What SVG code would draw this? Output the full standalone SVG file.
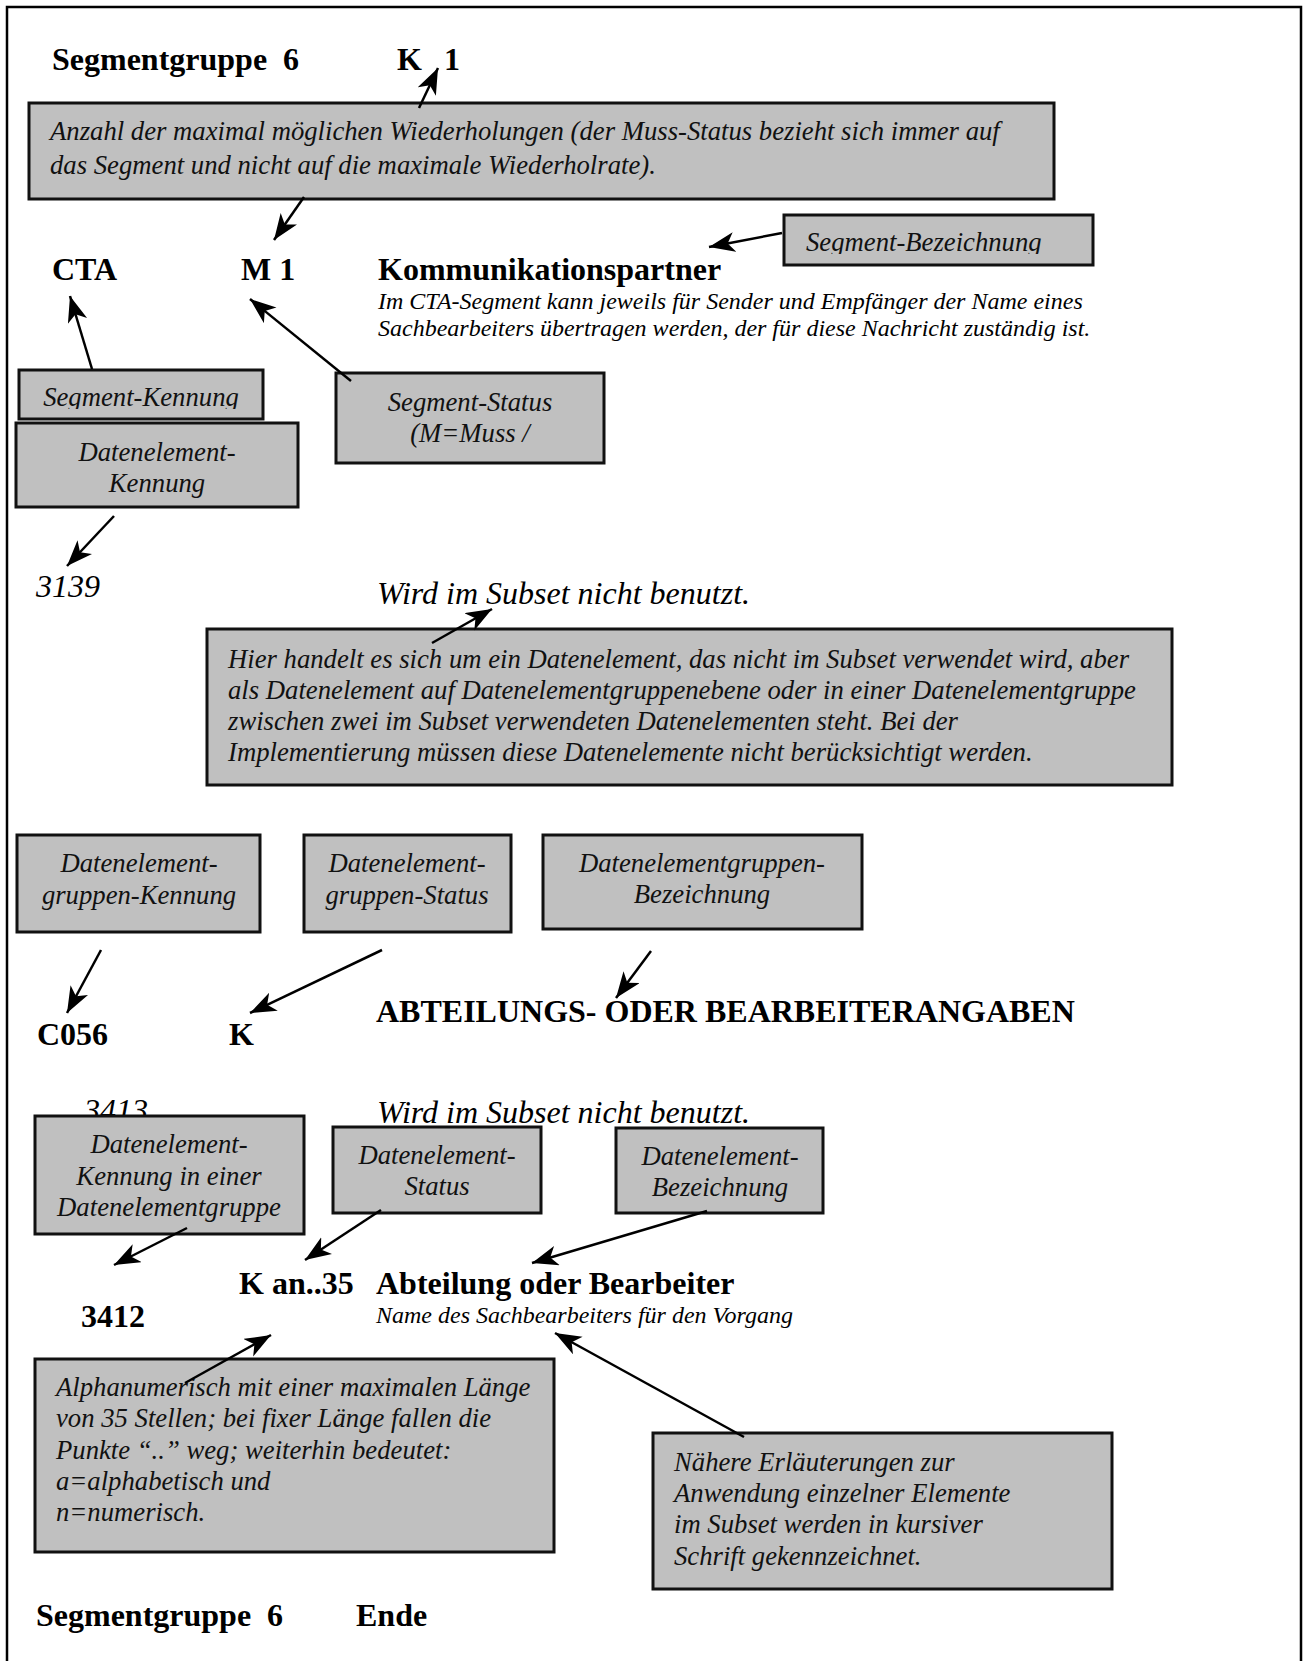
<svg xmlns="http://www.w3.org/2000/svg" width="1308" height="1661" viewBox="0 0 1308 1661">
<style>
.frame{fill:none;stroke:#000;stroke-width:2.5}
.box{fill:#c0c0c0;stroke:#111;stroke-width:3}
.b{font-family:"Liberation Serif","Times New Roman",serif;font-weight:bold;font-size:32px;fill:#000}
.i32{font-family:"Liberation Serif","Times New Roman",serif;font-style:italic;font-size:32px;fill:#000}
.i{font-family:"Liberation Serif","Times New Roman",serif;font-style:italic;font-size:26.7px;fill:#111}
.s{font-family:"Liberation Serif","Times New Roman",serif;font-style:italic;font-size:24px;fill:#000}
.c{text-anchor:middle}
.ln{fill:none;stroke:#000;stroke-width:2.5;marker-end:url(#ah)}
</style>
<defs>
<marker id="ah" markerUnits="userSpaceOnUse" markerWidth="28" markerHeight="22" refX="26" refY="10" orient="auto">
<path d="M0,0 L26,10 L0,20 L7,10 z" fill="#000"/>
</marker>
<clipPath id="clipSB"><rect x="784" y="215" width="309" height="39"/></clipPath>
<clipPath id="clipSK"><rect x="19" y="370" width="244" height="39"/></clipPath>
</defs>
<rect class="frame" x="7" y="7" width="1294" height="1700"/>

<g id="header">
<text class="b" x="52" y="70" xml:space="preserve">Segmentgruppe  6</text>
<text class="b" x="397" y="70">K</text>
<text class="b" x="444" y="70">1</text>
</g>

<g id="box-wiederholungen">
<rect class="box" x="29" y="103" width="1025" height="96"/>
<text class="i" x="50" y="140">Anzahl der maximal möglichen Wiederholungen (der Muss-Status bezieht sich immer auf</text>
<text class="i" x="50" y="174">das Segment und nicht auf die maximale Wiederholrate).</text>
</g>

<g id="segment-line">
<text class="b" x="52" y="280">CTA</text>
<text class="b" x="241" y="280">M 1</text>
<text class="b" x="378" y="280">Kommunikationspartner</text>
<text class="s" x="378" y="309">Im CTA-Segment kann jeweils für Sender und Empfänger der Name eines</text>
<text class="s" x="378" y="336">Sachbearbeiters übertragen werden, der für diese Nachricht zuständig ist.</text>
</g>

<g id="box-segment-bezeichnung">
<rect class="box" x="784" y="215" width="309" height="50"/>
<text class="i" x="806" y="251" clip-path="url(#clipSB)">Segment-Bezeichnung</text>
</g>

<g id="box-segment-kennung">
<rect class="box" x="19" y="370" width="244" height="49"/>
<text class="i c" x="141" y="406" clip-path="url(#clipSK)">Segment-Kennung</text>
</g>

<g id="box-datenelement-kennung">
<rect class="box" x="16" y="423" width="282" height="84"/>
<text class="i c" x="157" y="461">Datenelement-</text>
<text class="i c" x="157" y="492">Kennung</text>
</g>

<g id="box-segment-status">
<rect class="box" x="336" y="373" width="268" height="90"/>
<text class="i c" x="470" y="411">Segment-Status</text>
<text class="i c" x="470" y="442">(M=Muss /</text>
</g>

<g id="element-3139">
<text class="i32" x="36" y="597">3139</text>
<text class="i32" x="377" y="604">Wird im Subset nicht benutzt.</text>
</g>

<g id="box-hier-handelt">
<rect class="box" x="207" y="629" width="965" height="156"/>
<text class="i" x="228" y="668">Hier handelt es sich um ein Datenelement, das nicht im Subset verwendet wird, aber</text>
<text class="i" x="228" y="699">als Datenelement auf Datenelementgruppenebene oder in einer Datenelementgruppe</text>
<text class="i" x="228" y="730">zwischen zwei im Subset verwendeten Datenelementen steht. Bei der</text>
<text class="i" x="228" y="761">Implementierung müssen diese Datenelemente nicht berücksichtigt werden.</text>
</g>

<g id="box-deg-kennung">
<rect class="box" x="17" y="835" width="243" height="97"/>
<text class="i c" x="139" y="872">Datenelement-</text>
<text class="i c" x="139" y="904">gruppen-Kennung</text>
</g>

<g id="box-deg-status">
<rect class="box" x="304" y="835" width="207" height="97"/>
<text class="i c" x="407" y="872">Datenelement-</text>
<text class="i c" x="407" y="904">gruppen-Status</text>
</g>

<g id="box-deg-bezeichnung">
<rect class="box" x="543" y="835" width="319" height="94"/>
<text class="i c" x="702" y="872">Datenelementgruppen-</text>
<text class="i c" x="702" y="903">Bezeichnung</text>
</g>

<g id="group-line">
<text class="b" x="37" y="1045">C056</text>
<text class="b" x="229" y="1045">K</text>
<text class="b" x="376" y="1022">ABTEILUNGS- ODER BEARBEITERANGABEN</text>
</g>

<g id="element-3413">
<text class="i32" x="84" y="1121">3413</text>
<text class="i32" x="377" y="1123">Wird im Subset nicht benutzt.</text>
</g>

<g id="box-de-kennung-gruppe">
<rect class="box" x="35" y="1116" width="269" height="118"/>
<text class="i c" x="169" y="1153">Datenelement-</text>
<text class="i c" x="169" y="1185">Kennung in einer</text>
<text class="i c" x="169" y="1216">Datenelementgruppe</text>
</g>

<g id="box-de-status">
<rect class="box" x="333" y="1127" width="208" height="86"/>
<text class="i c" x="437" y="1164">Datenelement-</text>
<text class="i c" x="437" y="1195">Status</text>
</g>

<g id="box-de-bezeichnung">
<rect class="box" x="616" y="1128" width="207" height="85"/>
<text class="i c" x="720" y="1165">Datenelement-</text>
<text class="i c" x="720" y="1196">Bezeichnung</text>
</g>

<g id="element-line">
<text class="b" x="81" y="1327">3412</text>
<text class="b" x="239" y="1294">K an..35</text>
<text class="b" x="376" y="1294">Abteilung oder Bearbeiter</text>
<text class="s" x="376" y="1323">Name des Sachbearbeiters für den Vorgang</text>
</g>

<g id="box-alphanumerisch">
<rect class="box" x="35" y="1359" width="519" height="193"/>
<text class="i" x="56" y="1396">Alphanumerisch mit einer maximalen Länge</text>
<text class="i" x="56" y="1427">von 35 Stellen; bei fixer Länge fallen die</text>
<text class="i" x="56" y="1459">Punkte “..” weg; weiterhin bedeutet:</text>
<text class="i" x="56" y="1490">a=alphabetisch und</text>
<text class="i" x="56" y="1521">n=numerisch.</text>
</g>

<g id="box-naehere">
<rect class="box" x="653" y="1433" width="459" height="156"/>
<text class="i" x="674" y="1471">Nähere Erläuterungen zur</text>
<text class="i" x="674" y="1502">Anwendung einzelner Elemente</text>
<text class="i" x="674" y="1533">im Subset werden in kursiver</text>
<text class="i" x="674" y="1565">Schrift gekennzeichnet.</text>
</g>

<g id="footer">
<text class="b" x="36" y="1626" xml:space="preserve">Segmentgruppe  6</text>
<text class="b" x="356" y="1626">Ende</text>
</g>

<g id="connectors">
<line class="ln" x1="419" y1="108" x2="438" y2="68"/>
<line class="ln" x1="304" y1="197" x2="274" y2="240"/>
<line class="ln" x1="782" y1="233" x2="709" y2="247"/>
<line class="ln" x1="92" y1="369" x2="70" y2="296"/>
<line class="ln" x1="351" y1="381" x2="250" y2="299"/>
<line class="ln" x1="114" y1="516" x2="67" y2="566"/>
<line class="ln" x1="432" y1="643" x2="492" y2="609"/>
<line class="ln" x1="101" y1="950" x2="67" y2="1013"/>
<line class="ln" x1="382" y1="950" x2="250" y2="1013"/>
<line class="ln" x1="651" y1="951" x2="616" y2="998"/>
<line class="ln" x1="187" y1="1228" x2="114" y2="1265"/>
<line class="ln" x1="381" y1="1210" x2="305" y2="1260"/>
<line class="ln" x1="707" y1="1211" x2="532" y2="1263"/>
<line class="ln" x1="185" y1="1383" x2="271" y2="1335"/>
<line class="ln" x1="744" y1="1437" x2="555" y2="1333"/>
</g>
</svg>
